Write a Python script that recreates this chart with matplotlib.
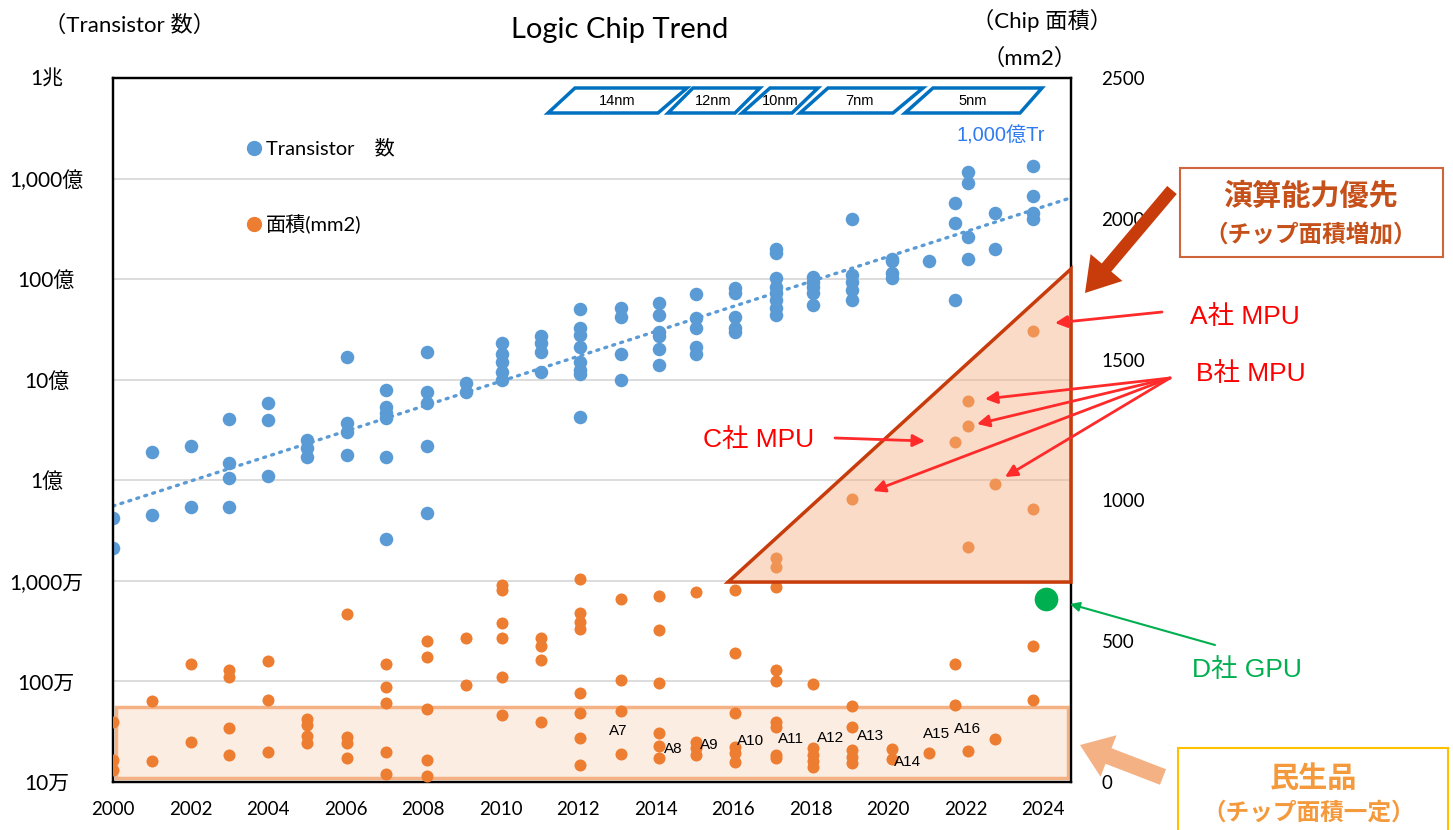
import numpy as np
import matplotlib
matplotlib.use('Agg')
from matplotlib import pyplot as plt
from matplotlib.patches import Polygon, Rectangle, FancyArrowPatch

plt.rcParams['font.family'] = ['Lato', 'Noto Sans CJK JP', 'DejaVu Sans']

W, H = 1453, 830

# transistor counts (left, log axis)
tr_years = ([2000.0] * 2 + [2001.0] * 2 + [2002.0] * 2 + [2003.0] * 4 + [2004.0] * 3
            + [2005.0] * 3 + [2006.05] * 4 + [2007.05] * 6 + [2008.1] * 5 + [2009.1] * 2
            + [2010.05] * 5 + [2011.05] * 4 + [2012.05] * 8 + [2013.1] * 4 + [2014.1] * 6
            + [2015.05] * 5 + [2016.05] * 5 + [2017.1] * 8 + [2018.05] * 5 + [2019.07] * 5
            + [2020.1] * 4 + [2021.05] * 1 + [2021.73] * 3 + [2022.06] * 4 + [2022.75] * 2
            + [2023.74] * 4)
tr_counts = [4.2e7, 2.1e7,
             1.9e8, 4.5e7,
             2.2e8, 5.4e7,
             4.1e8, 1.5e8, 1.05e8, 5.4e7,
             5.9e8, 4.0e8, 1.1e8,
             2.5e8, 2.1e8, 1.7e8,
             1.7e9, 3.7e8, 3.0e8, 1.8e8,
             7.9e8, 5.4e8, 4.7e8, 4.2e8, 1.7e8, 2.6e7,
             1.9e9, 7.5e8, 5.9e8, 2.2e8, 4.7e7,
             9.3e8, 7.5e8,
             2.3e9, 1.8e9, 1.5e9, 1.2e9, 1.0e9,
             2.7e9, 2.3e9, 1.9e9, 1.2e9,
             5.0e9, 3.3e9, 2.8e9, 2.1e9, 1.5e9, 1.25e9, 1.15e9, 4.3e8,
             5.2e9, 4.2e9, 1.8e9, 1.0e9,
             5.8e9, 4.4e9, 3.0e9, 2.7e9, 2.0e9, 1.4e9,
             7.1e9, 4.1e9, 3.3e9, 2.1e9, 1.8e9,
             8.2e9, 7.3e9, 4.2e9, 3.3e9, 3.0e9,
             2.0e10, 1.8e10, 1.03e10, 8.4e9, 7.3e9, 6.2e9, 5.2e9, 4.4e9,
             1.05e10, 9.4e9, 8.4e9, 7.3e9, 5.5e9,
             4.0e10, 1.1e10, 9.4e9, 7.8e9, 6.2e9,
             1.6e10, 1.5e10, 1.15e10, 1.03e10,
             1.5e10,
             5.7e10, 3.6e10, 6.2e9,
             1.16e11, 9.0e10, 2.6e10, 1.6e10,
             4.5e10, 2.0e10,
             1.33e11, 6.7e10, 4.5e10, 4.0e10]

# chip area in mm2 (right, linear axis)
area_years = ([2000.0] * 3 + [2001.0] * 2 + [2002.0] * 2 + [2003.0] * 4 + [2004.0] * 3
              + [2005.0] * 4 + [2006.05] * 4 + [2007.05] * 5 + [2008.1] * 5 + [2009.1] * 2
              + [2010.05] * 6 + [2011.05] * 4 + [2012.05] * 8 + [2013.1] * 4 + [2014.1] * 6
              + [2015.05] * 4 + [2016.05] * 6 + [2017.1] * 9 + [2018.05] * 5 + [2019.07] * 6
              + [2020.1] * 2 + [2021.05] * 1 + [2021.73] * 3 + [2022.06] * 4 + [2022.75] * 2
              + [2023.74] * 4)
area_mm2 = [213, 78, 43,
            288, 76,
            419, 141,
            398, 372, 191, 96,
            431, 291, 105,
            223, 202, 163, 140,
            595, 161, 140, 86,
            419, 338, 282, 105, 28,
            502, 443, 258, 78, 21,
            511, 344,
            700, 682, 566, 510, 374, 238,
            512, 483, 433, 214,
            720, 599, 569, 542, 315, 244, 157, 60,
            649, 362, 253, 98,
            660, 540, 353, 175, 128, 86,
            676, 143, 120, 96,
            682, 457, 244, 125, 102, 70,
            794, 765, 694, 398, 360, 214, 194, 96, 84,
            348, 120, 96, 76, 54,
            1005, 271, 196, 114, 90, 66,
            116, 81,
            104,
            1208, 419, 273,
            1353, 1264, 836, 111,
            1059, 152,
            1603, 968, 483, 291]

gpu_year = [2024.08]
gpu_area = [650]

left_ticks = [1e5, 1e6, 1e7, 1e8, 1e9, 1e10, 1e11, 1e12]
left_labels = ['10万', '100万', '1,000万', '1億', '10億', '100億', '1,000億', '1兆']
right_ticks = [0, 500, 1000, 1500, 2000, 2500]
x_ticks = list(range(2000, 2025, 2))

nodes = ['14nm', '12nm', '10nm', '7nm', '5nm']
apple_chips = ['A7', 'A8', 'A9', 'A10', 'A11', 'A12', 'A13', 'A14', 'A15', 'A16']

BLUE = '#5B9BD5'
ORANGE = '#ED7D31'
GREEN = '#00B050'
RED = '#FF2A2A'
DARKOR = '#C83C0C'
LIGHTOR = '#F4B183'
NARROW = ['Liberation Sans Narrow', 'Liberation Sans', 'Noto Sans CJK JP']


def fx(px):
    return px / W


def fy(py):
    return 1 - py / H


fig = plt.figure(figsize=(W / 100, H / 100), dpi=100)
ax = fig.add_axes([fx(113), fy(782), (1071 - 113) / W, (782 - 78) / H])
ax2 = ax.twinx()

xmin, xmax = 2000, 2024.72
ax.set_xlim(xmin, xmax)
ax.set_yscale('log')
ax.set_ylim(1e5, 1e12)
ax2.set_ylim(0, 2500)

ax.set_yticks(left_ticks)
ax.set_yticklabels(left_labels)
ax.minorticks_off()
ax.yaxis.set_tick_params(length=0, pad=48, labelsize=15)
for lbl in ax.get_yticklabels():
    lbl.set_horizontalalignment('center')
ax.set_xticks(x_ticks)
ax.xaxis.set_tick_params(length=0, pad=14, labelsize=13.5)
ax2.set_yticks(right_ticks)
ax2.yaxis.set_tick_params(length=0, pad=22, labelsize=13.5)
ax.grid(axis='y', color='#D9D9D9', lw=1.3)
ax.set_axisbelow(True)
for a in (ax, ax2):
    for s in a.spines.values():
        s.set_color('black')
        s.set_linewidth(1.6)

# transistor scatter + exponential trend line
ax.scatter(tr_years, tr_counts, s=95, color=BLUE, zorder=3, linewidths=0)
coef = np.polyfit(tr_years, np.log10(tr_counts), 1)
tx = np.array([xmin, xmax])
ax.plot(tx, 10 ** np.polyval(coef, tx), color=BLUE, lw=2.4, ls=(0, (0.6, 1.9)),
        dash_capstyle='round', zorder=2)

# consumer band (constant chip area)
ax2.add_patch(Rectangle((2000.08, 14), 2024.65 - 2000.08, 266 - 14,
                        facecolor=LIGHTOR, alpha=0.22, edgecolor='none', zorder=1))
ax2.add_patch(Rectangle((2000.08, 14), 2024.65 - 2000.08, 266 - 14,
                        facecolor='none', edgecolor=LIGHTOR, lw=2.5, zorder=1))

ax2.scatter(area_years, area_mm2, s=75, color=ORANGE, zorder=3, linewidths=0)
ax2.scatter(gpu_year, gpu_area, s=290, color=GREEN, zorder=3, linewidths=0, clip_on=False)

# compute-first triangle
ax2.add_patch(Polygon([(2015.87, 710), (xmax, 1822), (xmax, 710)], closed=True,
                      facecolor=LIGHTOR, alpha=0.45, edgecolor='none', zorder=4))
ax2.add_patch(Polygon([(2015.87, 710), (xmax, 1822), (xmax, 710)], closed=True,
                      facecolor='none', edgecolor=DARKOR, lw=2.5, zorder=4, clip_on=False))

# legend
ax.plot([fx(254)], [fy(148)], 'o', color=BLUE, ms=10, transform=fig.transFigure, clip_on=False)
ax.plot([fx(254)], [fy(224)], 'o', color=ORANGE, ms=10, transform=fig.transFigure, clip_on=False)
fig.text(fx(266), fy(148), 'Transistor　数', fontsize=14.5, va='center')
fig.text(fx(266), fy(224), '面積(mm2)', fontsize=14.5, va='center')

# titles
fig.text(fx(620), fy(30), 'Logic Chip Trend', fontsize=21, ha='center', va='center')
fig.text(fx(130), fy(25), '（Transistor 数）', fontsize=16, ha='center', va='center')
fig.text(fx(1042), fy(20), '（Chip 面積）', fontsize=16, ha='center', va='center')
fig.text(fx(1030), fy(58), '（mm2）', fontsize=16, ha='center', va='center')

# process node boxes
node_boxes = [(548, 575, 687, 658, 617), (668, 693, 760, 735, 713), (742, 770, 818, 792, 780),
              (800, 828, 923, 893, 860), (905, 933, 1042, 1020, 973)]
for name, (bl, tl, tr, br, cx) in zip(nodes, node_boxes):
    fig.add_artist(Polygon([(fx(bl), fy(113)), (fx(tl), fy(88)), (fx(tr), fy(88)), (fx(br), fy(113))],
                           closed=True, transform=fig.transFigure, facecolor='white',
                           edgecolor='#0070C0', lw=2.5))
    fig.text(fx(cx), fy(101), name, fontsize=10.5, ha='center', va='center', family=NARROW)

fig.text(fx(1001), fy(136), '1,000億Tr', fontsize=14.5, ha='center', va='center',
         color='#2F7BEF', family=NARROW)

# chip labels
chip_pos = [(618, 731), (673, 749), (709, 745), (751, 741), (791, 739), (831, 738),
            (871, 736), (908, 762), (937, 734), (968, 729)]
for name, (px, py) in zip(apple_chips, chip_pos):
    fig.text(fx(px), fy(py), name, fontsize=11, ha='center', va='center', family=NARROW)


def arrow(p0, p1, style, color, lw=0, ms=18):
    fig.add_artist(FancyArrowPatch((fx(p0[0]), fy(p0[1])), (fx(p1[0]), fy(p1[1])),
                                   transform=fig.transFigure, arrowstyle=style, color=color,
                                   lw=lw, mutation_scale=ms, shrinkA=0, shrinkB=0))


# right-hand notes
fig.add_artist(Rectangle((fx(1180), fy(257)), (1443 - 1180) / W, (257 - 168) / H,
                         transform=fig.transFigure, facecolor='white', edgecolor='#D0643A', lw=1.5))
fig.text(fx(1311), fy(196), '演算能力優先', fontsize=21, fontweight='bold', color='#C5501A',
         ha='center', va='center')
fig.text(fx(1311), fy(234), '（チップ面積増加）', fontsize=17, fontweight='bold', color='#C5501A',
         ha='center', va='center')
arrow((1172, 190), (1085, 293), 'simple,head_length=1.2,head_width=1.5,tail_width=0.45', DARKOR, ms=20)

fig.text(fx(1245), fy(317), 'A社 MPU', fontsize=19, color='#FF0000', ha='center', va='center', family=NARROW)
arrow((1162, 312), (1055, 323), '-|>', RED, lw=2)
fig.text(fx(1251), fy(374), 'B社 MPU', fontsize=19, color='#FF0000', ha='center', va='center', family=NARROW)
for tgt in [(985, 399), (977, 424), (873, 491), (1005, 477)]:
    arrow((1170, 378), tgt, '-|>', RED, lw=2)
fig.text(fx(759), fy(440), 'C社 MPU', fontsize=19, color='#FF0000', ha='center', va='center', family=NARROW)
arrow((835, 438), (925, 441), '-|>', RED, lw=2)
fig.text(fx(1247), fy(670), 'D社 GPU', fontsize=19, color=GREEN, ha='center', va='center', family=NARROW)
arrow((1215, 645), (1070, 604), '-|>', GREEN, lw=1.5, ms=14)

arrow((1163, 777), (1080, 745), 'simple,head_length=1.1,head_width=1.6,tail_width=0.6', LIGHTOR, ms=20)
fig.add_artist(Rectangle((fx(1178), fy(840)), (1448 - 1178) / W, (840 - 748) / H,
                         transform=fig.transFigure, facecolor='white', edgecolor='#FFC000', lw=1.5))
fig.text(fx(1313), fy(778), '民生品', fontsize=21, fontweight='bold', color='#F59A3C',
         ha='center', va='center')
fig.text(fx(1309), fy(812), '（チップ面積一定）', fontsize=17, fontweight='bold', color='#F59A3C',
         ha='center', va='center')

fig.savefig('out.png', dpi=100)
